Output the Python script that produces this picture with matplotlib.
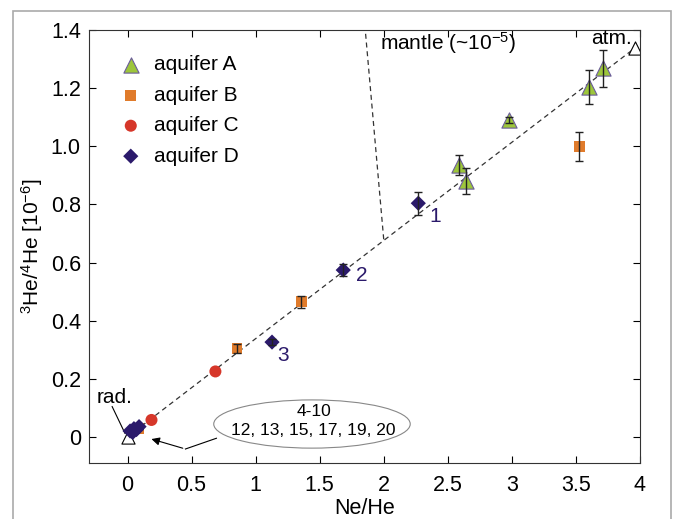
import numpy as np
import matplotlib
matplotlib.use('Agg')
import matplotlib.pyplot as plt
from matplotlib.patches import Ellipse, Rectangle

plt.rcParams['font.family'] = ['Liberation Sans', 'DejaVu Sans']
plt.rcParams['mathtext.fontset'] = 'custom'
plt.rcParams['mathtext.rm'] = 'Liberation Sans'
plt.rcParams['mathtext.default'] = 'regular'

# aquifer data (Ne/He, 3He/4He [1e-6], error)
a_x = [2.59, 2.64, 2.98, 3.60, 3.71]
a_y = [0.935, 0.881, 1.09, 1.205, 1.268]
a_err = [0.035, 0.045, 0.01, 0.058, 0.063]

b_x = [0.855, 1.357, 3.527, 0.09]
b_y = [0.305, 0.465, 1.0, 0.028]
b_err = [0.015, 0.02, 0.05, 0.0]

c_x = [0.187, 0.686]
c_y = [0.058, 0.225]

d_x = [2.27, 1.684, 1.128, 0.02, 0.04, 0.05, 0.07, 0.09]
d_y = [0.804, 0.574, 0.326, 0.02, 0.015, 0.028, 0.025, 0.035]
d_err = [0.04, 0.022, 0.01, 0, 0, 0, 0, 0]
d_labels = ['1', '2', '3']
d_label_x = [2.40, 1.825, 1.214]
d_label_y = [0.76, 0.554, 0.28]

rad = (0.0, 0.0)
atm = (3.96, 1.338)
mantle_start = (2.0, 0.68)
mantle_dir = (1.83, 1.53)

green = '#9DC63B'
orange = '#E07B2B'
red = '#D6372A'
purple = '#2B1A6B'

fig = plt.figure(figsize=(6.75, 5.19), dpi=100)
ax = fig.add_axes([0.132, 0.108, 0.816, 0.834])

# mixing lines
ax.plot([rad[0], atm[0]], [rad[1], atm[1]], ls=(0, (4, 3)), color='#333333', lw=0.9, zorder=1)
ax.plot([mantle_start[0], mantle_dir[0]], [mantle_start[1], mantle_dir[1]],
        ls=(0, (4, 3)), color='#333333', lw=0.9, zorder=1)

ax.scatter(a_x, a_y, marker='^', s=120, c=green, edgecolors='#6A5C9A', linewidths=0.8,
           zorder=3, label='aquifer A')
ax.scatter(b_x, b_y, marker='s', s=60, c=orange, edgecolors='none', zorder=3, label='aquifer B')
ax.scatter(c_x, c_y, marker='o', s=75, c=red, edgecolors='none', zorder=3, label='aquifer C')
ax.scatter(d_x, d_y, marker='D', s=60, c=purple, edgecolors='none', zorder=3, label='aquifer D')

ax.errorbar(a_x, a_y, yerr=a_err, fmt='none', ecolor='#222222', elinewidth=1, capsize=3, zorder=4)
ax.errorbar(b_x[:3], b_y[:3], yerr=b_err[:3], fmt='none', ecolor='#222222', elinewidth=1, capsize=3, zorder=4)
ax.errorbar(d_x[:3], d_y[:3], yerr=d_err[:3], fmt='none', ecolor='#222222', elinewidth=1, capsize=3, zorder=4)

# end members
ax.scatter([rad[0], atm[0]], [rad[1], atm[1]], marker='^', s=90, facecolors='white',
           edgecolors='black', linewidths=0.8, zorder=2)

for lab, lx, ly in zip(d_labels, d_label_x, d_label_y):
    ax.text(lx, ly, lab, color=purple, fontsize=15, ha='center', va='center')

ax.text(3.94, 1.37, 'atm.', fontsize=15, ha='right', va='center')
ax.text(1.97, 1.355, 'mantle (~10$^{-5}$)', fontsize=15, ha='left', va='center')
ax.text(-0.24, 0.134, 'rad.', fontsize=15, ha='left', va='center')
ax.plot([-0.12, -0.02], [0.104, 0.012], color='black', lw=0.8)

ell = Ellipse((1.44, 0.044), 1.534, 0.166, facecolor='white', edgecolor='#888888', lw=0.8, zorder=2)
ax.add_patch(ell)
ax.text(1.453, 0.087, '4-10', fontsize=12.5, ha='center', va='center', zorder=3)
ax.text(1.45, 0.022, '12, 13, 15, 17, 19, 20', fontsize=12.5, ha='center', va='center', zorder=3)
ax.plot([0.694, 0.452], [-0.005, -0.042], color='black', lw=0.8)
ax.annotate('', xy=(0.166, -0.005), xytext=(0.452, -0.042),
            arrowprops=dict(arrowstyle='-|>', color='black', lw=0.8, mutation_scale=12))

ax.set_xlim(-0.3, 4.0)
ax.set_ylim(-0.09, 1.4)
ax.set_xticks([0, 0.5, 1, 1.5, 2, 2.5, 3, 3.5, 4])
ax.set_xticklabels(['0', '0.5', '1', '1.5', '2', '2.5', '3', '3.5', '4'])
ax.set_yticks([0, 0.2, 0.4, 0.6, 0.8, 1.0, 1.2, 1.4])
ax.set_yticklabels(['0', '0.2', '0.4', '0.6', '0.8', '1.0', '1.2', '1.4'])
ax.tick_params(direction='in', top=True, right=True, labelsize=15.5, length=5)
ax.tick_params(axis='x', pad=9)
ax.tick_params(axis='y', pad=6)
for s in ax.spines.values():
    s.set_color('#333333')
ax.set_xlabel('Ne/He', fontsize=15.5, labelpad=1)
ax.set_ylabel('$^{3}$He/$^{4}$He [10$^{-6}$]', fontsize=15, labelpad=4)

ax.legend(loc='upper left', frameon=False, fontsize=15, scatterpoints=1,
          borderaxespad=0.6, handletextpad=0.1, labelspacing=0.55, bbox_to_anchor=(0.0, 0.99))

fig.patches.append(Rectangle((13 / 675, -0.05), 658 / 675, 1.05 - 11 / 519, transform=fig.transFigure,
                             fill=False, edgecolor='#AAAAAA', lw=1.2))

fig.savefig('out.png', dpi=100)
